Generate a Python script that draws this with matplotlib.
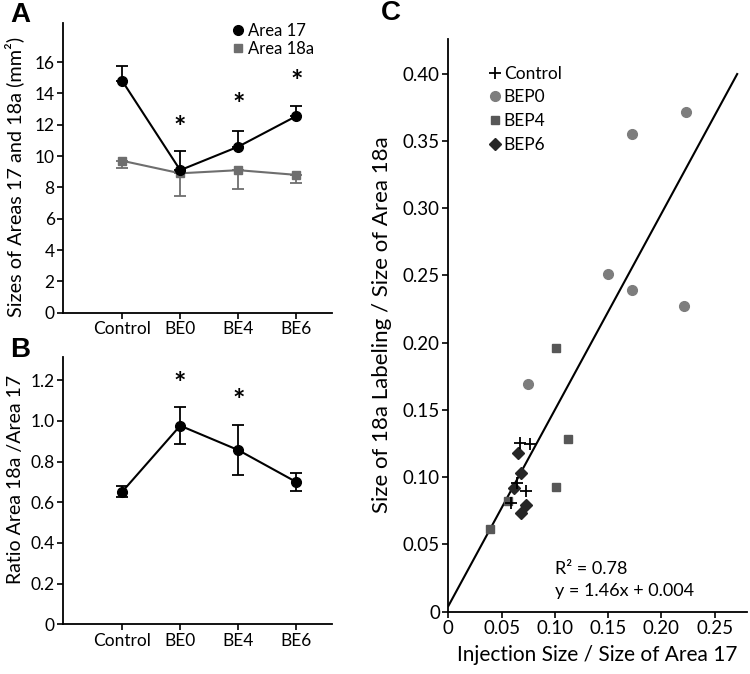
import matplotlib
matplotlib.use('Agg')
import matplotlib.pyplot as plt
from matplotlib.lines import Line2D
import numpy as np

plt.rcParams['font.family'] = ['Lato', 'DejaVu Sans']

# panel A / B data
groups = ['Control', 'BE0', 'BE4', 'BE6']
area17 = [14.8, 9.1, 10.6, 12.55]
area17_err = [0.97, 1.2, 1.0, 0.62]
area18a = [9.7, 8.9, 9.1, 8.8]
area18a_err = [0.47, 1.43, 1.2, 0.55]
stars_a = [None, 11.8, 13.25, 14.7]

ratio = [0.652, 0.977, 0.857, 0.70]
ratio_err = [0.027, 0.09, 0.125, 0.045]
stars_b = [None, 1.18, 1.097, None]

# panel C data
ctrl_x = [0.0672, 0.0766, 0.0641, 0.0728, 0.0585]
ctrl_y = [0.125, 0.1244, 0.0952, 0.0897, 0.0808]
bep0_x = [0.2228, 0.1728, 0.150, 0.1728, 0.2209, 0.0744]
bep0_y = [0.3718, 0.3553, 0.251, 0.2389, 0.2272, 0.169]
bep4_x = [0.101, 0.1122, 0.101, 0.0557, 0.0389]
bep4_y = [0.1963, 0.128, 0.0923, 0.0823, 0.0615]
bep6_x = [0.0653, 0.0679, 0.0613, 0.0728, 0.0681]
bep6_y = [0.118, 0.1031, 0.092, 0.0791, 0.0732]
slope, intercept = 1.46, 0.004
fit_xmax = 0.271

gray18 = '#6e6e6e'
c0 = '#7d7d7d'
c4 = '#575757'
c6 = '#262626'

fig = plt.figure(figsize=(7.5, 6.74), dpi=100)
axA = fig.add_axes([0.084, 0.536, 0.359, 0.430])
axB = fig.add_axes([0.084, 0.0737, 0.359, 0.397])
axC = fig.add_axes([0.5977, 0.0927, 0.398, 0.850])

xs = np.arange(1, len(groups) + 1)


def style(ax, size=12.5):
    ax.spines['top'].set_visible(False)
    ax.spines['right'].set_visible(False)
    for s in ['left', 'bottom']:
        ax.spines[s].set_linewidth(1.3)
    ax.tick_params(direction='out', length=4, width=1.2, labelsize=size, pad=2)


# ---- A
axA.errorbar(xs, area18a, yerr=[area18a_err, [0]*4], color=gray18, marker='s', ms=5.5,
             lw=1.5, capsize=4, capthick=1.3, elinewidth=1.3, zorder=2)
axA.errorbar(xs, area17, yerr=[[0]*4, area17_err], color='black', marker='o', ms=7,
             lw=1.5, capsize=4, capthick=1.3, elinewidth=1.3, zorder=3)
for x, s in zip(xs, stars_a):
    if s is not None:
        axA.text(x, s, '*', ha='center', va='center', fontsize=21, fontweight='bold')
axA.set_xlim(-0.02, 4.62)
axA.set_ylim(0, 18.5)
axA.set_yticks(range(0, 17, 2))
axA.set_xticks(xs)
axA.set_xticklabels(groups)
axA.set_ylabel('Sizes of Areas 17 and 18a (mm²)', fontsize=14.3)
axA.yaxis.set_label_coords(-0.145, 0.47)
style(axA)
hA = [Line2D([], [], color='black', marker='o', ls='none', ms=7),
      Line2D([], [], color=gray18, marker='s', ls='none', ms=5.5)]
axA.legend(hA, ['Area 17', 'Area 18a'], loc='upper left', bbox_to_anchor=(0.6, 1.03),
           frameon=False, handlelength=0.6, handletextpad=0.3, labelspacing=0.15,
           borderpad=0, fontsize=12)

# ---- B
axB.errorbar(xs, ratio, yerr=ratio_err, color='black', marker='o', ms=7, lw=1.5,
             capsize=4, capthick=1.3, elinewidth=1.3)
for x, s in zip(xs, stars_b):
    if s is not None:
        axB.text(x, s, '*', ha='center', va='center', fontsize=21, fontweight='bold')
axB.set_xlim(-0.02, 4.62)
axB.set_ylim(0, 1.316)
axB.set_yticks(np.arange(0, 1.21, 0.2))
axB.set_yticklabels(['0', '0.2', '0.4', '0.6', '0.8', '1.0', '1.2'])
axB.set_xticks(xs)
axB.set_xticklabels(groups)
axB.set_ylabel('Ratio Area 18a /Area 17', fontsize=14)
axB.yaxis.set_label_coords(-0.145, 0.54)
style(axB)

# ---- C
fx = np.array([0, fit_xmax])
axC.plot(fx, slope * fx + intercept, color='black', lw=1.5, zorder=1)
axC.plot(bep0_x, bep0_y, 'o', color=c0, ms=7, ls='none', zorder=2)
axC.plot(bep4_x, bep4_y, 's', color=c4, ms=6, ls='none', zorder=2)
axC.plot(bep6_x, bep6_y, 'D', color=c6, ms=6, ls='none', zorder=3)
axC.plot(ctrl_x, ctrl_y, '+', color='black', ms=8, mew=1.3, ls='none', zorder=4)
axC.set_xlim(0, 0.28)
axC.set_ylim(0, 0.426)
axC.set_xticks(np.arange(0, 0.26, 0.05))
axC.set_xticklabels(['0', '0.05', '0.10', '0.15', '0.20', '0.25'])
axC.set_yticks(np.arange(0, 0.41, 0.05))
axC.set_yticklabels(['0', '0.05', '0.10', '0.15', '0.20', '0.25', '0.30', '0.35', '0.40'])
axC.set_xlabel('Injection Size / Size of Area 17', fontsize=15, labelpad=6)
axC.set_ylabel('Size of 18a Labeling / Size of Area 18a', fontsize=16, labelpad=8)
style(axC, 13.5)
hC = [Line2D([], [], color='black', marker='+', ls='none', ms=8, mew=1.3),
      Line2D([], [], color=c0, marker='o', ls='none', ms=7),
      Line2D([], [], color=c4, marker='s', ls='none', ms=6),
      Line2D([], [], color=c6, marker='D', ls='none', ms=6)]
axC.legend(hC, ['Control', 'BEP0', 'BEP4', 'BEP6'], loc='upper left',
           bbox_to_anchor=(0.11, 0.968), frameon=False, handlelength=0.6,
           handletextpad=0.2, labelspacing=0.45, borderpad=0, fontsize=12.5)
axC.text(0.356, 0.075, 'R² = 0.78', transform=axC.transAxes, fontsize=13, va='center')
axC.text(0.356, 0.036, 'y = 1.46x + 0.004', transform=axC.transAxes, fontsize=13, va='center')

# panel letters
fig.text(10 / 750, 1 - 15 / 674, 'A', fontsize=20, fontweight='bold', va='center', family='Liberation Sans')
fig.text(10 / 750, 1 - 350 / 674, 'B', fontsize=20, fontweight='bold', va='center', family='Liberation Sans')
fig.text(381 / 750, 1 - 13 / 674, 'C', fontsize=20, fontweight='bold', va='center', family='Liberation Sans')

fig.savefig('out.png', dpi=100)
